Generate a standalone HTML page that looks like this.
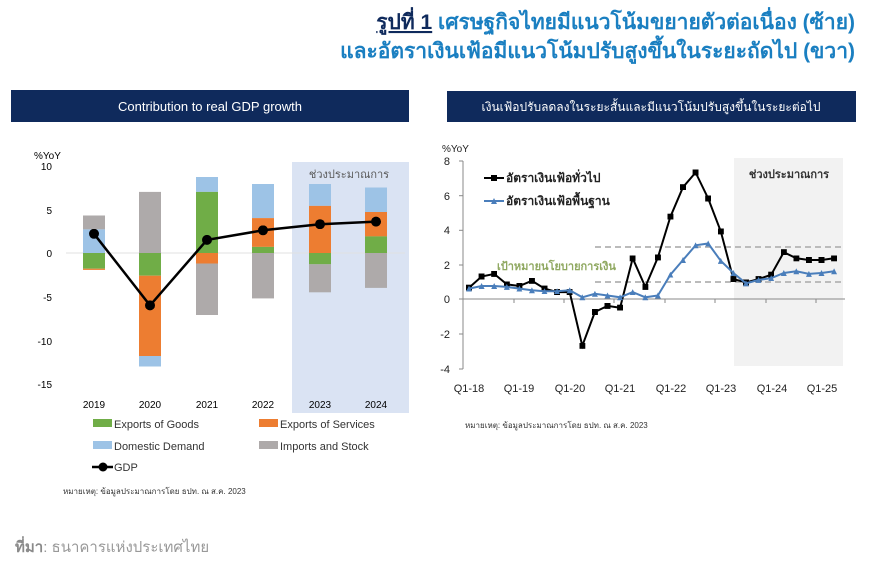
<!DOCTYPE html>
<html><head><meta charset="utf-8"><style>
body{margin:0;background:#fff;width:881px;height:569px;overflow:hidden;font-family:"Liberation Sans",sans-serif}
</style></head><body>
<svg width="881" height="569" viewBox="0 0 881 569" xmlns="http://www.w3.org/2000/svg" font-family="Liberation Sans, DejaVu Sans, sans-serif">
<defs>
<marker id="sq" viewBox="0 0 6 6" refX="3" refY="3" markerWidth="6" markerHeight="6" markerUnits="userSpaceOnUse"><rect width="6" height="6" fill="#000"/></marker>
<marker id="tr" viewBox="0 0 6 6" refX="3" refY="3" markerWidth="6" markerHeight="6" markerUnits="userSpaceOnUse"><path d="M3 0L6 6H0z" fill="#4a7ebb"/></marker>
<marker id="ci" viewBox="0 0 10 10" refX="5" refY="5" markerWidth="10" markerHeight="10" markerUnits="userSpaceOnUse"><circle cx="5" cy="5" r="5" fill="#000"/></marker>
</defs>
<!-- Title -->
<text x="855" y="29" text-anchor="end" font-size="21" font-weight="bold" fill="#1a7fc1"><tspan fill="#0f2a5c" text-decoration="underline">รูปที่ 1</tspan> เศรษฐกิจไทยมีแนวโน้มขยายตัวต่อเนื่อง (ซ้าย)</text>
<text x="855" y="58" text-anchor="end" font-size="21" font-weight="bold" fill="#1a7fc1">และอัตราเงินเฟ้อมีแนวโน้มปรับสูงขึ้นในระยะถัดไป (ขวา)</text>
<!-- headers -->
<rect x="11" y="90" width="398" height="32" fill="#0f2a5c"/>
<text x="210" y="111" text-anchor="middle" font-size="13" fill="#fff">Contribution to real GDP growth</text>
<rect x="447" y="91" width="409" height="31" fill="#0f2a5c"/>
<text x="651" y="111" text-anchor="middle" font-size="12" fill="#fff">เงินเฟ้อปรับลดลงในระยะสั้นและมีแนวโน้มปรับสูงขึ้นในระยะต่อไป</text>

<!-- LEFT CHART -->
<rect x="292" y="162" width="117" height="251" fill="#dae3f3"/>
<text x="349" y="178" text-anchor="middle" font-size="11" fill="#595959">ช่วงประมาณการ</text>
<line x1="66" y1="253" x2="405" y2="253" stroke="#e0e0e0"/>
<g font-size="10" fill="#000" text-anchor="end">
<text x="34" y="159" text-anchor="start">%YoY</text>
<text x="52" y="170">10</text><text x="52" y="214">5</text><text x="52" y="257">0</text>
<text x="52" y="301">-5</text><text x="52" y="345">-10</text><text x="52" y="388">-15</text>
</g>
<g font-size="10" text-anchor="middle">
<text x="94" y="408">2019</text><text x="150" y="408">2020</text><text x="207" y="408">2021</text>
<text x="263" y="408">2022</text><text x="320" y="408">2023</text><text x="376" y="408">2024</text>
</g>
<!-- bars -->
<g>
<rect x="83" y="215.5" width="22" height="13.9" fill="#aeaaaa"/>
<rect x="83" y="229.4" width="22" height="23.6" fill="#9dc3e6"/>
<rect x="83" y="253" width="22" height="15.7" fill="#70ad47"/>
<rect x="83" y="268.7" width="22" height="1.2" fill="#ed7d31"/>

<rect x="139" y="191.9" width="22" height="61.1" fill="#aeaaaa"/>
<rect x="139" y="253" width="22" height="22.7" fill="#70ad47"/>
<rect x="139" y="275.7" width="22" height="80.3" fill="#ed7d31"/>
<rect x="139" y="356" width="22" height="10.5" fill="#9dc3e6"/>

<rect x="196" y="177" width="22" height="14.9" fill="#9dc3e6"/>
<rect x="196" y="191.9" width="22" height="61.1" fill="#70ad47"/>
<rect x="196" y="253" width="22" height="10.5" fill="#ed7d31"/>
<rect x="196" y="263.5" width="22" height="51.5" fill="#aeaaaa"/>

<rect x="252" y="184" width="22" height="34.1" fill="#9dc3e6"/>
<rect x="252" y="218.1" width="22" height="28.8" fill="#ed7d31"/>
<rect x="252" y="246.9" width="22" height="6.1" fill="#70ad47"/>
<rect x="252" y="253" width="22" height="45.4" fill="#aeaaaa"/>

<rect x="309" y="184" width="22" height="21.9" fill="#9dc3e6"/>
<rect x="309" y="205.9" width="22" height="47.1" fill="#ed7d31"/>
<rect x="309" y="253" width="22" height="11.3" fill="#70ad47"/>
<rect x="309" y="264.3" width="22" height="28" fill="#aeaaaa"/>

<rect x="365" y="187.5" width="22" height="24.5" fill="#9dc3e6"/>
<rect x="365" y="212" width="22" height="24.4" fill="#ed7d31"/>
<rect x="365" y="236.4" width="22" height="16.6" fill="#70ad47"/>
<rect x="365" y="253" width="22" height="34.9" fill="#aeaaaa"/>
</g>
<polyline points="94,233.8 150,305.4 207,239.9 263,230.3 320,224.2 376,221.6" fill="none" stroke="#000" stroke-width="2.5" marker-start="url(#ci)" marker-mid="url(#ci)" marker-end="url(#ci)"/>
<!-- legend -->
<g font-size="11" fill="#333">
<rect x="93" y="419" width="19" height="8" fill="#70ad47"/><text x="114" y="428">Exports of Goods</text>
<rect x="259" y="419" width="19" height="8" fill="#ed7d31"/><text x="280" y="428">Exports of Services</text>
<rect x="93" y="441" width="19" height="8" fill="#9dc3e6"/><text x="114" y="450">Domestic Demand</text>
<rect x="259" y="441" width="19" height="8" fill="#aeaaaa"/><text x="280" y="450">Imports and Stock</text>
<line x1="92" y1="467" x2="113" y2="467" stroke="#000" stroke-width="2.5"/><circle cx="103" cy="467" r="4.5" fill="#000"/>
<text x="114" y="471">GDP</text>
</g>
<text x="63" y="494" font-size="8" fill="#333">หมายเหตุ: ข้อมูลประมาณการโดย ธปท. ณ ส.ค. 2023</text>
<text x="15" y="552" font-size="15" fill="#999"><tspan font-weight="bold" fill="#8a8a8a">ที่มา</tspan>: ธนาคารแห่งประเทศไทย</text>

<!-- RIGHT CHART -->
<rect x="734" y="158" width="109" height="208" fill="#f2f2f2"/>
<text x="789" y="178" text-anchor="middle" font-size="11" font-weight="bold" fill="#333">ช่วงประมาณการ</text>
<line x1="595" y1="247" x2="843" y2="247" stroke="#bbb" stroke-width="2" stroke-dasharray="6,4"/>
<line x1="595" y1="282" x2="843" y2="282" stroke="#bbb" stroke-width="2" stroke-dasharray="6,4"/>
<line x1="463" y1="161" x2="463" y2="369" stroke="#888"/>
<line x1="463" y1="299" x2="845" y2="299" stroke="#888"/>
<g stroke="#888">
<line x1="459" y1="161" x2="463" y2="161"/><line x1="459" y1="195.7" x2="463" y2="195.7"/><line x1="459" y1="230.3" x2="463" y2="230.3"/><line x1="459" y1="265" x2="463" y2="265"/><line x1="459" y1="299" x2="463" y2="299"/><line x1="459" y1="334" x2="463" y2="334"/><line x1="459" y1="369" x2="463" y2="369"/>
<line x1="514" y1="299" x2="514" y2="303"/><line x1="564" y1="299" x2="564" y2="303"/><line x1="614" y1="299" x2="614" y2="303"/><line x1="665" y1="299" x2="665" y2="303"/><line x1="715" y1="299" x2="715" y2="303"/><line x1="766" y1="299" x2="766" y2="303"/><line x1="816" y1="299" x2="816" y2="303"/>
</g>
<g font-size="11" fill="#222" text-anchor="end">
<text x="442" y="152" text-anchor="start" font-size="10">%YoY</text>
<text x="450" y="165">8</text><text x="450" y="200">6</text><text x="450" y="234">4</text><text x="450" y="269">2</text>
<text x="450" y="303">0</text><text x="450" y="338">-2</text><text x="450" y="373">-4</text>
</g>
<g font-size="11" fill="#222" text-anchor="middle">
<text x="469" y="392">Q1-18</text><text x="519" y="392">Q1-19</text><text x="570" y="392">Q1-20</text><text x="620" y="392">Q1-21</text>
<text x="671" y="392">Q1-22</text><text x="721" y="392">Q1-23</text><text x="772" y="392">Q1-24</text><text x="822" y="392">Q1-25</text>
</g>
<text x="497" y="270" font-size="11" font-weight="bold" fill="#8fa860">เป้าหมายนโยบายการเงิน</text>
<polyline points="469,287.7 481.6,276.5 494.2,273.9 506.8,284.3 519.4,286 531.9,280.8 544.5,288.6 557.1,292.1 569.7,292.1 582.3,345.8 594.9,312 607.5,305.9 620.1,307.7 632.7,258.3 645.3,286.9 657.9,257.4 670.4,216.7 683,187.2 695.6,172.5 708.2,198.5 720.8,231.4 733.4,279.1 746,282.5 758.6,279.1 771.2,274.7 783.8,252.2 796.3,258.3 808.9,260 821.5,260 834.1,258.3" fill="none" stroke="#000" stroke-width="2" marker-start="url(#sq)" marker-mid="url(#sq)" marker-end="url(#sq)"/>
<polyline points="469,288.6 481.6,286 494.2,286 506.8,286.9 519.4,288.6 531.9,290.3 544.5,291.2 557.1,291.2 569.7,290.3 582.3,297.3 594.9,293.8 607.5,295.5 620.1,297.3 632.7,292.1 645.3,297.3 657.9,295.5 670.4,274.7 683,260 695.6,245.3 708.2,243.5 720.8,260.9 733.4,273 746,283.4 758.6,279.9 771.2,278.2 783.8,273 796.3,271.3 808.9,273.9 821.5,273 834.1,271.3" fill="none" stroke="#4a7ebb" stroke-width="2" marker-start="url(#tr)" marker-mid="url(#tr)" marker-end="url(#tr)"/>
<line x1="484" y1="178" x2="504" y2="178" stroke="#000" stroke-width="2"/><rect x="491" y="175" width="6" height="6" fill="#000"/>
<text x="506" y="182" font-size="12" font-weight="bold" fill="#222">อัตราเงินเฟ้อทั่วไป</text>
<line x1="484" y1="201" x2="504" y2="201" stroke="#4a7ebb" stroke-width="2"/><path d="M494 198L497 204H491z" fill="#4a7ebb"/>
<text x="506" y="205" font-size="12" font-weight="bold" fill="#222">อัตราเงินเฟ้อพื้นฐาน</text>
<text x="465" y="428" font-size="8" fill="#333">หมายเหตุ: ข้อมูลประมาณการโดย ธปท. ณ ส.ค. 2023</text>
</svg>
</body></html>
